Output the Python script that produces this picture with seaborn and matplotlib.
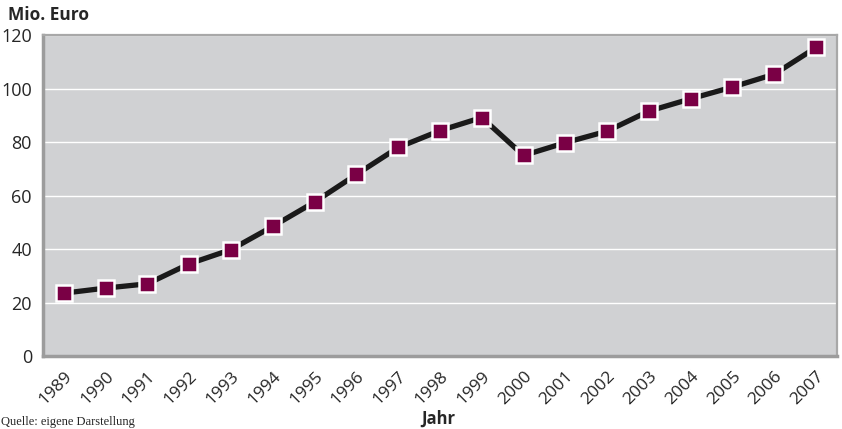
import numpy as np
import pandas as pd
import seaborn as sns
import matplotlib.pyplot as plt
from matplotlib.transforms import ScaledTranslation

# ---------------------------------------------------------------------------
# Data
# ---------------------------------------------------------------------------
years = ["1989", "1990", "1991", "1992", "1993", "1994", "1995", "1996", "1997", "1998",
         "1999", "2000", "2001", "2002", "2003", "2004", "2005", "2006", "2007"]
values = [23.5, 25.4, 27.0, 34.5, 39.8, 48.5, 57.6, 67.9, 78.0, 84.3,
          89.2, 75.0, 79.8, 84.1, 91.6, 96.2, 100.6, 105.4, 115.4]
y_ticks = [0, 20, 40, 60, 80, 100, 120]

sns.set_style("white")
plt.rcParams["font.family"] = ["Open Sans", "DejaVu Sans"]

df = pd.DataFrame({"Jahr": years, "Mio. Euro": values})

fig = plt.figure(figsize=(8.42, 4.29), dpi=100)
ax = fig.add_axes([0.0511, 0.1702, 0.9429, 0.7478])
ax.set_facecolor("#d0d1d3")

sns.lineplot(
    data=df, x="Jahr", y="Mio. Euro", ax=ax,
    color="#1a1a1a", linewidth=3.8, marker="s", markersize=11,
    markerfacecolor="#7a0045", markeredgecolor="white", markeredgewidth=1.8,
    zorder=3,
)

ax.set_xlim(-0.5, len(years) - 0.5)
ax.set_ylim(0, 120)
ax.set_yticks(y_ticks)
ax.grid(axis="y", color="white", linewidth=1.0, zorder=0)
ax.set_axisbelow(True)

# x ticks: labels at category centres, tick marks at boundaries
ax.set_xticks(range(len(years)))
ax.set_xticklabels(years, rotation=45, ha="right", va="top", rotation_mode="anchor", fontsize=12.5)
offset = ScaledTranslation(9 / 100, 0, fig.dpi_scale_trans)
for lbl in ax.get_xticklabels():
    lbl.set_transform(lbl.get_transform() + offset)
ax.tick_params(axis="x", which="major", length=0, pad=9)
ax.set_xticks(np.arange(-0.5, len(years), 1), minor=True)
ax.tick_params(axis="x", which="minor", length=5, width=1, color="#a0a0a0", direction="out")
ax.tick_params(axis="y", length=0, labelsize=13, pad=8)

for side in ["left", "bottom"]:
    ax.spines[side].set_color("#9c9c9c")
    ax.spines[side].set_linewidth(2.5)
for side in ["top", "right"]:
    ax.spines[side].set_color("#a8a8a8")
    ax.spines[side].set_linewidth(1.6)

ax.set_xlabel("")
ax.set_ylabel("")
fig.text(0.009, 0.966, "Mio. Euro", fontsize=12.5, fontweight="bold", ha="left", va="center")
fig.text(0.520, 0.025, "Jahr", fontsize=12, fontweight="bold", ha="center", va="center")
fig.text(0.001, 0.002, "Quelle: eigene Darstellung", fontsize=9,
         family=["Liberation Serif"], ha="left", va="bottom")

fig.savefig("out.png", dpi=100)
